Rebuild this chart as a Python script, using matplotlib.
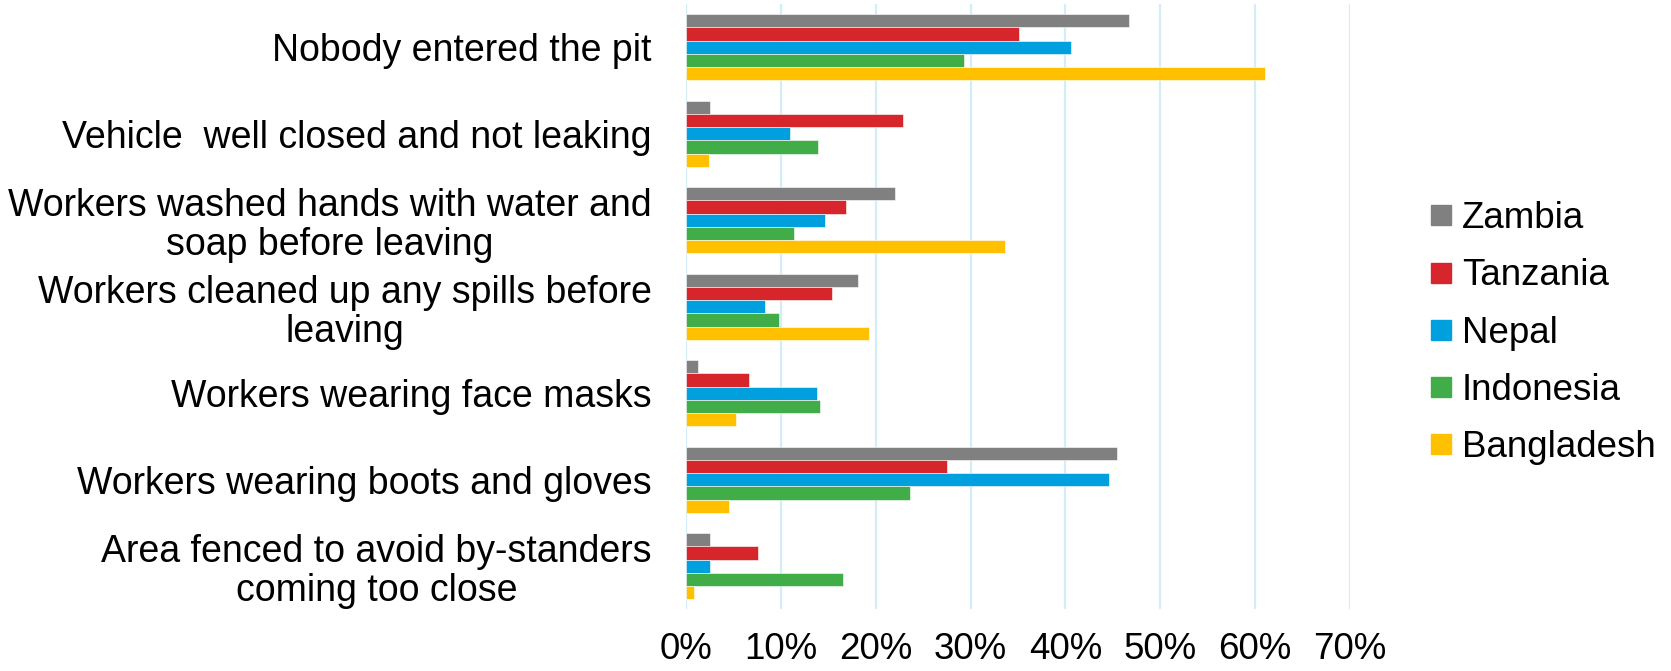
import numpy as np
import matplotlib
matplotlib.use("Agg")
import matplotlib.pyplot as plt
from matplotlib.ticker import PercentFormatter
from matplotlib.lines import Line2D

# ----- DATA -----
categories = [
    "Nobody entered the pit",
    "Vehicle  well closed and not leaking",
    "Workers washed hands with water and\nsoap before leaving",
    "Workers cleaned up any spills before\nleaving",
    "Workers wearing face masks",
    "Workers wearing boots and gloves",
    "Area fenced to avoid by-standers\ncoming too close",
]
countries = ["Zambia", "Tanzania", "Nepal", "Indonesia", "Bangladesh"]

zambia = [46.7, 2.5, 22.0, 18.1, 1.3, 45.4, 2.5]
tanzania = [35.1, 22.9, 16.9, 15.4, 6.6, 27.5, 7.6]
nepal = [40.6, 11.0, 14.7, 8.3, 13.8, 44.6, 2.5]
indonesia = [29.3, 13.9, 11.4, 9.8, 14.1, 23.6, 16.6]
bangladesh = [61.0, 2.4, 33.6, 19.3, 5.3, 4.5, 0.8]

x_ticks = [0, 10, 20, 30, 40, 50, 60, 70]
# ----------------

COLORS = ["#808080", "#D7262B", "#009FDE", "#41AD49", "#FFC000"]
FONT = ["Liberation Sans", "Arial", "DejaVu Sans"]
FS = 26.5

plt.rcParams["font.family"] = FONT

series = [zambia, tanzania, nepal, indonesia, bangladesh]

fig = plt.figure(figsize=(16.71, 6.71), dpi=100)
ax = fig.add_axes([0.4105, 0.0917, 0.3974, 0.9023])

y = np.arange(len(categories))
bar_h = 0.1526
for i, (name, vals) in enumerate(zip(countries, series)):
    ax.barh(y + (i - 2) * bar_h, np.array(vals) / 100, height=bar_h,
            color=COLORS[i], edgecolor="white", linewidth=0.4, label=name,
            zorder=3)

ax.set_xlim(0, 0.7)
ax.set_ylim(len(categories) - 0.5, -0.5)
ax.set_xticks(np.array(x_ticks) / 100)
ax.xaxis.set_major_formatter(PercentFormatter(1.0, decimals=0))
ax.set_yticks(y)
ax.set_yticklabels(categories, fontsize=27, ha="right", multialignment="center",
                   linespacing=1.1)
ax.tick_params(axis="x", labelsize=FS, length=0, pad=16.5)
ax.tick_params(axis="y", length=0, pad=24.5)
ax.grid(axis="x", color="#D3EEF9", linewidth=1.6, zorder=0)
for s in ax.spines.values():
    s.set_visible(False)

# square legend keys, as in the spreadsheet style
handles = [Line2D([], [], marker="s", linestyle="none", markersize=14,
                  markerfacecolor=c, markeredgecolor=c) for c in COLORS]
fig.legend(handles, countries, loc="center left", bbox_to_anchor=(0.8558, 0.5037),
           frameon=False, fontsize=FS, labelspacing=0.6, handlelength=0.6,
           handletextpad=0.27, borderpad=0, borderaxespad=0)

fig.savefig("out.png", dpi=100)
